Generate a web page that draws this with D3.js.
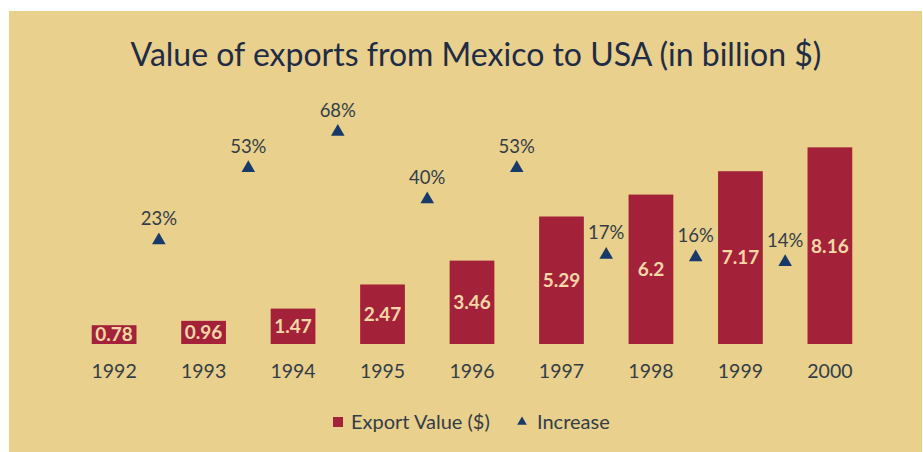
<!DOCTYPE html>
<html>
<head>
<meta charset="utf-8">
<script src="https://cdn.jsdelivr.net/npm/d3@7"></script>
<style>
  html, body { margin: 0; padding: 0; background: #fff; }
  svg { display: block; }
  text { font-family: Lato, "Noto Sans", sans-serif; }
</style>
</head>
<body>
<script>
// data
const years = ["1992", "1993", "1994", "1995", "1996", "1997", "1998", "1999", "2000"]
const exportValues = [0.78, 0.96, 1.47, 2.47, 3.46, 5.29, 6.2, 7.17, 8.16]
// growth over the previous year, shown between the two bars
const increaseYears = ["1993", "1994", "1995", "1996", "1997", "1998", "1999", "2000"]
const increaseValues = [0.23, 0.53, 0.68, 0.40, 0.53, 0.17, 0.16, 0.14]

const colors = {
  bg: "#e9d08c",
  bar: "#a32239",
  tri: "#173a6b",
  text: "#333d47",
  title: "#1f2c46",
  barText: "#f6d7a6"
}

const width = 923, height = 452

const svg = d3.select("body").append("svg")
  .attr("width", width)
  .attr("height", height)

svg.append("rect")
  .attr("x", 9).attr("y", 11)
  .attr("width", width - 10).attr("height", height - 11)
  .attr("fill", colors.bg)

svg.append("text")
  .attr("x", 476)
  .attr("y", 66)
  .attr("text-anchor", "middle")
  .attr("font-size", 32)
  .attr("fill", colors.title)
  .text("Value of exports from Mexico to USA (in billion $)")

const x = d3.scaleBand()
  .domain(years)
  .range([47, 897])
  .padding(0.5)

const y = d3.scaleLinear().domain([0, 10]).range([344, 103])
const y2 = d3.scaleLinear().domain([-0.2, 0.8]).range([344, 103])

const bars = years.map((yr, i) => ({ year: yr, value: exportValues[i] }))
const incs = increaseYears.map((yr, i) => ({ year: yr, value: increaseValues[i] }))

// x for an increase: halfway between previous bar and this one
const incX = d => x(d.year) + x.bandwidth() / 2 - x.step() / 2

svg.selectAll(".bar")
  .data(bars)
  .enter().append("rect")
    .attr("class", "bar")
    .attr("x", d => x(d.year))
    .attr("width", x.bandwidth())
    .attr("y", d => y(d.value))
    .attr("height", d => y(0) - y(d.value))
    .attr("fill", colors.bar)

svg.selectAll(".barlabel")
  .data(bars)
  .enter().append("text")
    .attr("class", "barlabel")
    .attr("x", d => x(d.year) + x.bandwidth() / 2)
    .attr("y", d => (y(d.value) + y(0)) / 2)
    .attr("dy", "0.36em")
    .attr("text-anchor", "middle")
    .attr("font-size", 19)
    .attr("font-weight", "bold")
    .attr("fill", colors.barText)
    .text(d => d.value)

const xAxis = d3.axisBottom(x).tickSize(0).tickPadding(0)
const gx = svg.append("g")
  .attr("transform", "translate(0," + y(0) + ")")
  .call(xAxis)
gx.select(".domain").remove()
gx.selectAll("text")
  .attr("y", 34)
  .attr("dy", "0")
  .attr("font-size", 19.5)
  .attr("font-family", "Lato, 'Noto Sans', sans-serif")
  .attr("fill", colors.text)

const tri = d3.symbol().type(d3.symbolTriangle).size(80)

svg.selectAll(".tri")
  .data(incs)
  .enter().append("path")
    .attr("class", "tri")
    .attr("transform", d => "translate(" + incX(d) + "," + y2(d.value) + ")")
    .attr("d", tri)
    .attr("fill", colors.tri)

svg.selectAll(".inclabel")
  .data(incs)
  .enter().append("text")
    .attr("class", "inclabel")
    .attr("x", d => incX(d))
    .attr("y", d => y2(d.value) - 22)
    .attr("dy", "0.36em")
    .attr("text-anchor", "middle")
    .attr("font-size", 18.5)
    .attr("fill", colors.text)
    .text(d => Math.round(d.value * 100) + "%")

// legend
const legend = svg.append("g").attr("transform", "translate(333,422)")
legend.append("rect")
  .attr("x", 0).attr("y", -5)
  .attr("width", 10).attr("height", 10)
  .attr("fill", colors.bar)
legend.append("text")
  .attr("x", 18).attr("y", 0).attr("dy", "0.36em")
  .attr("font-size", 20)
  .attr("fill", colors.text)
  .text("Export Value ($)")
legend.append("path")
  .attr("transform", "translate(189,0)")
  .attr("d", d3.symbol().type(d3.symbolTriangle).size(40))
  .attr("fill", colors.tri)
legend.append("text")
  .attr("x", 204).attr("y", 0).attr("dy", "0.36em")
  .attr("font-size", 20)
  .attr("fill", colors.text)
  .text("Increase")
</script>
</body>
</html>
